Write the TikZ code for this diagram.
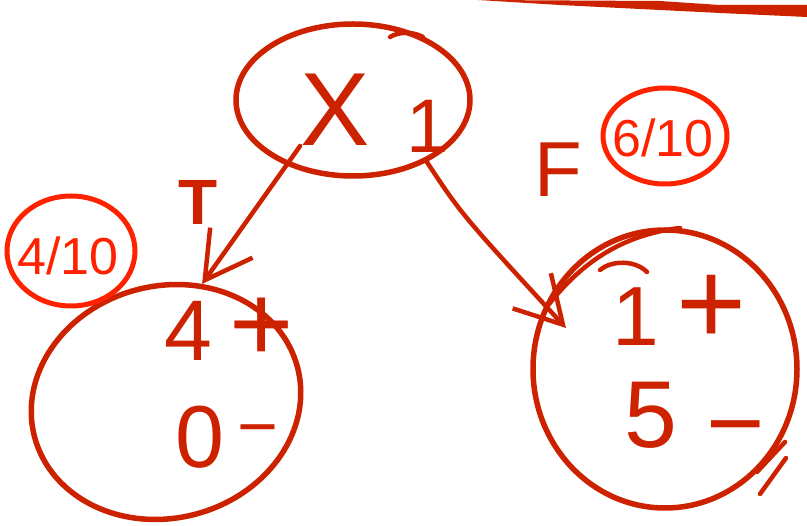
\documentclass[tikz,border=0pt]{standalone}
\usepackage{fontspec}
\setmainfont{Liberation Sans}
\usetikzlibrary{shapes.geometric,arrows.meta}
\definecolor{dred}{RGB}{204,34,0}
\definecolor{bred}{RGB}{255,34,0}
\begin{document}
\begin{tikzpicture}[x=1pt,y=-1pt,
  blob/.style={draw=dred,line width=5.5pt,ellipse,inner sep=0pt},
  ring/.style={draw=bred,line width=5pt,ellipse,inner sep=0pt},
  txt/.style={text=dred,inner sep=0pt,font=\fontsize{#1}{#1}\selectfont},
  rtxt/.style={text=bred,inner sep=0pt,font=\fontsize{#1}{#1}\selectfont},
  conn/.style={draw=dred,line width=4.5pt,line cap=round,
    -{Straight Barb[length=46pt,width=52pt,line width=4.5pt]}},
  stroke/.style={draw=dred,line width=4.5pt,line cap=round}]
\useasboundingbox (0,0) rectangle (807,526);
% heavy line at top right
\fill[dred] (478,0) -- (660,1) -- (720,5) -- (807,5) -- (807,17) -- (720,13) -- (660,10) -- (560,5) -- cycle;
% nodes
\node[blob,minimum width=234pt,minimum height=152pt] (top) at (353,100) {};
\node[blob,minimum width=272pt,minimum height=232pt,rotate=15] (left) at (166,402) {};
\node[blob,minimum width=264pt,minimum height=278pt] (right) at (665,369) {};
% contents of top node
\node[txt=104] (xsym) at (335,110) {X};
\node[txt=76] (one) at (428,126) {1};
\draw[stroke] (390,37) .. controls (398,32) and (412,31) .. (423,37);
% contents of left node
\node[txt=86] (lfour) at (188,331) {4};
\node[txt=110] (lplus) at (262,330) {+};
\node[txt=88] (lzero) at (200,437) {0};
\node[txt=70] (lminus) at (258,438) {−};
% contents of right node
\node[txt=84] (rone) at (636,317) {1};
\node[txt=120] (rplus) at (712,310) {+};
\node[txt=95] (rfive) at (651,415) {5};
\node[txt=100] (rminus) at (736,439) {−};
\draw[stroke] (600,270) .. controls (612,260) and (635,260) .. (647,272);
\draw[stroke] (550,303) .. controls (580,265) and (620,235) .. (680,228);
\draw[stroke] (785,442) -- (757,472);
\draw[stroke] (786,458) -- (760,494);
% edge labels
\node[txt=64,font=\fontsize{64}{64}\bfseries] (tlab) at (198,202) {T};
\node[txt=78] (flab) at (558,170) {F};
\node[ring,minimum width=128pt,minimum height=110pt] (lring) at (71,251) {};
\node[rtxt=52] (lfrac) at (68,256) {4/10};
\node[ring,minimum width=124pt,minimum height=96pt] (rring) at (665,136) {};
\node[rtxt=52] (rfrac) at (663,138) {6/10};
% connectors
\coordinate (rtip) at (566,328);
\draw[conn] (xsym.south west) -- (left.58);
\draw[conn] (top.-40) .. controls (462,215) .. (rtip);
\end{tikzpicture}
\end{document}
